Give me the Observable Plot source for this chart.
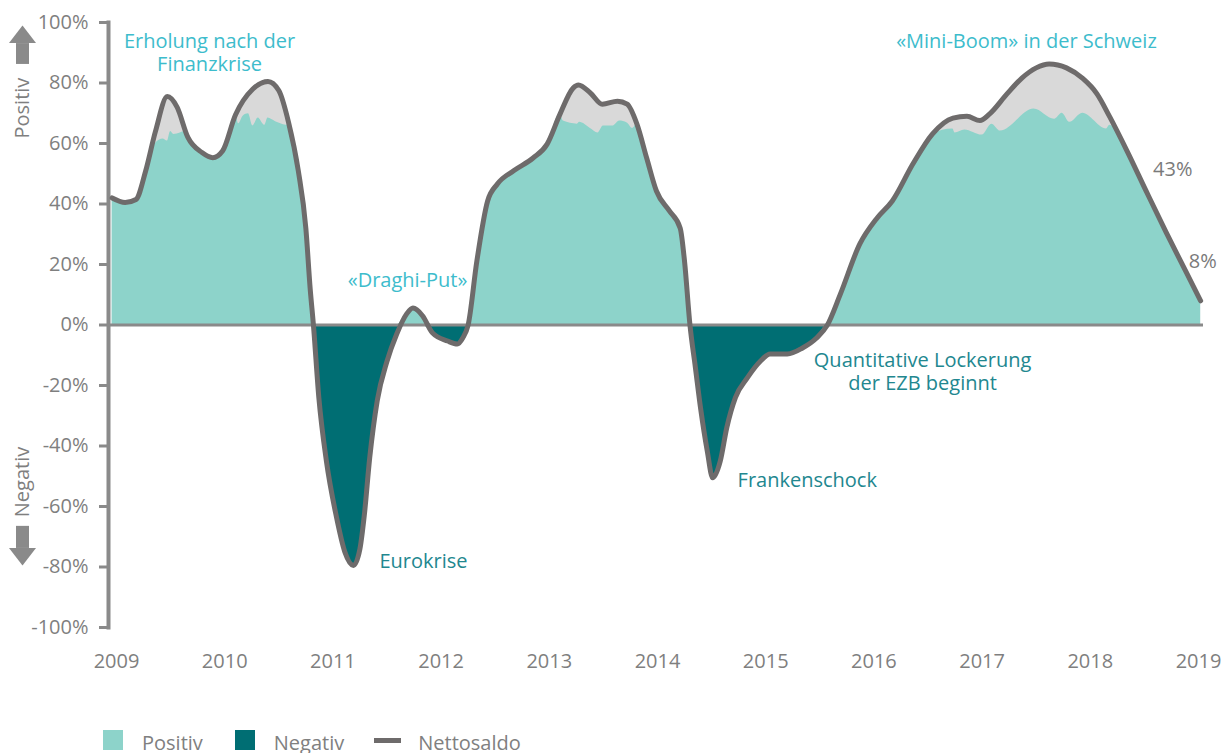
<!DOCTYPE html>
<html>
<head>
<meta charset="utf-8">
<script src="https://cdn.jsdelivr.net/npm/d3@7"></script>
<script src="https://cdn.jsdelivr.net/npm/@observablehq/plot@0.6"></script>
<style>
  html, body { margin: 0; padding: 0; background: #fff; }
  #wrap { position: relative; width: 1229px; height: 753px; overflow: hidden; font-family: "Open Sans", sans-serif; }
  #legend { position: absolute; left: 103px; top: 730px; display: flex; align-items: center; font-size: 20px; color: #808080; line-height: 20px; }
  #legend .sw { width: 20px; height: 20px; display: inline-block; }
  #legend .ln { width: 27px; height: 5px; display: inline-block; background: #6e6b6b; }
  #legend .lab { margin-left: 19px; margin-right: 32px; position: relative; top: 3px; }
</style>
</head>
<body>
<div id="wrap"><div id="chart"></div>
<div id="legend">
  <span class="sw" style="background:#8dd3ca"></span><span class="lab">Positiv</span>
  <span class="sw" style="background:#006e73"></span><span class="lab" style="margin-right:30px">Negativ</span>
  <span class="ln"></span><span class="lab" style="margin-left:17px">Nettosaldo</span>
</div>
</div>
<script>
// ---- Data ----
const xDomain = [2009, 2019];
const xTicks = [2009, 2010, 2011, 2012, 2013, 2014, 2015, 2016, 2017, 2018, 2019];
const yTicks = [-100, -80, -60, -40, -20, 0, 20, 40, 60, 80, 100];

// Nettosaldo (in %)
const nettoYear = [
  2008.96, 2009.08, 2009.18, 2009.27, 2009.36, 2009.47, 2009.56, 2009.66, 2009.79, 2009.89,
  2009.98, 2010.10, 2010.26, 2010.40, 2010.50, 2010.59, 2010.68, 2010.75, 2010.79, 2010.82,
  2010.87, 2010.94, 2011.03, 2011.11, 2011.19, 2011.25, 2011.29, 2011.34, 2011.41, 2011.50,
  2011.59, 2011.68, 2011.74, 2011.83, 2011.92, 2012.06, 2012.15, 2012.20, 2012.25, 2012.33,
  2012.43, 2012.52, 2012.67, 2012.85, 2012.98, 2013.10, 2013.22, 2013.27, 2013.38, 2013.49,
  2013.63, 2013.72, 2013.81, 2013.90, 2013.99, 2014.11, 2014.21, 2014.25, 2014.30, 2014.35,
  2014.40, 2014.46, 2014.51, 2014.58, 2014.64, 2014.72, 2014.83, 2014.95, 2015.04, 2015.20,
  2015.34, 2015.47, 2015.57, 2015.69, 2015.87, 2016.03, 2016.17, 2016.36, 2016.54, 2016.73,
  2016.86, 2016.98, 2017.07, 2017.23, 2017.37, 2017.50, 2017.62, 2017.78, 2017.93, 2018.06,
  2018.18, 2018.34, 2018.52, 2018.70, 2018.89, 2019.02
];
const nettoValue = [
  42, 40.5, 41.5, 51, 64, 75.5, 72, 62, 57, 55.3,
  57.5, 69.5, 78, 80.5, 77.5, 67, 51, 32, 12, 0,
  -24, -45, -63, -75, -79.5, -74, -63, -44, -25, -12,
  -3, 3.6, 5.6, 3, -2.6, -5.3, -6.3, -4.3, 0, 21,
  41, 46.6, 51, 55.2, 59.8, 69.8, 78.3, 79.3, 76.7, 73,
  74, 73, 66.4, 55.2, 44.3, 37.7, 32, 21, 0, -14,
  -28, -41.7, -50.5, -45, -34, -24, -17.5, -12, -9.6, -9.6,
  -7.6, -4.3, 0, 10.2, 26.8, 35.4, 41, 53.2, 63.1, 68.4,
  69, 67.6, 69.8, 76.4, 81.7, 85, 86.3, 85, 81.5, 76.5,
  68.8, 57.5, 44, 30.7, 17.2, 8
];

// Anteil "Positiv" where it stays below the Nettosaldo (grey caps)
const positivCap1 = [[2009.36, 60], [2009.43, 61.5], [2009.47, 60.8], [2009.50, 64], [2009.53, 63], [2009.59, 63.5], [2009.63, 64]];
const positivCap2 = [[2010.13, 66.5], [2010.17, 69], [2010.22, 69.8], [2010.26, 65.8], [2010.31, 68.4], [2010.37, 66], [2010.40, 68.4], [2010.47, 67.2], [2010.53, 66.4], [2010.58, 66]];
const positivCap3 = [[2013.13, 67.4], [2013.26, 66.4], [2013.28, 67], [2013.38, 65], [2013.45, 63.5], [2013.50, 65.8], [2013.59, 65.8], [2013.65, 67.4], [2013.72, 66.8], [2013.77, 65]];
const positivCap4 = [[2016.73, 64.8], [2016.75, 63.5], [2016.84, 64.5], [2017.00, 62.8], [2017.09, 66.4], [2017.17, 64.1], [2017.48, 71.4], [2017.67, 68], [2017.74, 70], [2017.81, 67], [2017.93, 70], [2018.15, 64.8], [2018.18, 66]];

// Annotations
const annoText = ["Erholung nach der\nFinanzkrise", "«Draghi-Put»", "«Mini-Boom» in der Schweiz", "Eurokrise", "Frankenschock", "Quantitative Lockerung\nder EZB beginnt", "43%", "8%"];
const annoYear = [2009.86, 2011.69, 2017.41, 2011.43, 2014.74, 2016.45, 2018.58, 2018.91];
const annoValue = [90.1, 14.9, 93.9, -78, -51.2, -15.2, 51.6, 21.2];
const annoAlign = ["middle", "middle", "middle", "start", "start", "middle", "start", "start"];
const annoColor = ["#3dbccc", "#3dbccc", "#3dbccc", "#22878f", "#22878f", "#22878f", "#7a7a7a", "#7a7a7a"];

const sideText = ["Positiv", "Negativ"];
const sideValue = [71.7, -51.9];
const arrowShaft = [[93.2, 86.3], [-66.4, -73.7]];
const arrowHead = [[93.2, 0], [-73.7, 180]];

// ---- Build ----
const netto = nettoYear.map((x, i) => ({x, v: nettoValue[i]}));
const caps = [positivCap1, positivCap2, positivCap3, positivCap4];
const inCap = x => caps.some(c => x >= c[0][0] && x <= c[c.length - 1][0]);
const positiv = netto.filter(d => !inCap(d.x)).map(d => ({x: d.x, v: Math.max(0, d.v)}))
  .concat(caps.flat().map(([x, v]) => ({x, v: Math.max(0, v)})))
  .sort((a, b) => a.x - b.x);

const anno = annoText.map((t, i) => ({t, x: annoYear[i], y: annoValue[i], a: annoAlign[i], c: annoColor[i]}));
const side = sideText.map((t, i) => ({t, y: sideValue[i]}));
const shafts = arrowShaft.map(([y1, y2]) => ({y1, y2}));
const heads = arrowHead.map(([y, rot]) => ({y, rot}));

const x0 = () => xDomain[0];
const gray = "#8a8a8a";

const chart = Plot.plot({
  width: 1229,
  height: 700,
  marginLeft: 108,
  marginRight: 26,
  marginTop: 22,
  marginBottom: 73,
  x: {domain: xDomain, range: [116, 1198]},
  y: {domain: [-100, 100]},
  color: {type: "identity"},
  style: {fontFamily: '"Open Sans", sans-serif', fontSize: "20px", color: "#7f7f7f", background: "#fff", overflow: "visible"},
  marks: [
    Plot.areaY(netto, {x: "x", y1: 0, y2: d => Math.max(0, d.v), curve: "monotone-x", fill: "#d9d9d9"}),
    Plot.areaY(positiv, {x: "x", y1: 0, y2: "v", curve: "monotone-x", fill: "#8dd3ca"}),
    Plot.areaY(netto, {x: "x", y1: 0, y2: d => Math.min(0, d.v), curve: "monotone-x", fill: "#006e73"}),
    Plot.ruleY([0], {stroke: gray, strokeWidth: 3}),
    Plot.frame({anchor: "left", stroke: gray, strokeWidth: 4}),
    Plot.axisY({ticks: yTicks, tickFormat: d => `${d}%`, tickSize: 9, tickPadding: 11, strokeWidth: 3, stroke: gray, fill: "#7f7f7f", fontSize: 20, label: null}),
    Plot.axisX({ticks: xTicks, tickFormat: d => `${d}`, tickSize: 0, tickPadding: 26, fill: "#7f7f7f", fontSize: 20, label: null}),
    Plot.line(netto, {x: "x", y: "v", curve: "monotone-x", stroke: "#6e6b6b", strokeWidth: 5, strokeLinejoin: "round"}),
    Plot.text(anno.filter(d => d.a === "middle"), {x: "x", y: "y", text: "t", fill: "c", textAnchor: "middle", lineHeight: 1.15, fontSize: 20}),
    Plot.text(anno.filter(d => d.a === "start"), {x: "x", y: "y", text: "t", fill: "c", textAnchor: "start", lineHeight: 1.15, fontSize: 20}),
    Plot.text(side, {x: x0, y: "y", text: "t", rotate: -90, dx: -94, fill: "#7f7f7f", fontSize: 20}),
    Plot.link(shafts, {x1: x0, x2: x0, y1: "y1", y2: "y2", dx: -94, stroke: gray, strokeWidth: 13}),
    Plot.vector(heads, {x: x0, y: "y", rotate: "rot", length: 17.5, r: 13.5, anchor: "start", shape: "spike", fill: gray, stroke: "none", dx: -94})
  ]
});
document.getElementById("chart").appendChild(chart);
</script>
</body>
</html>
